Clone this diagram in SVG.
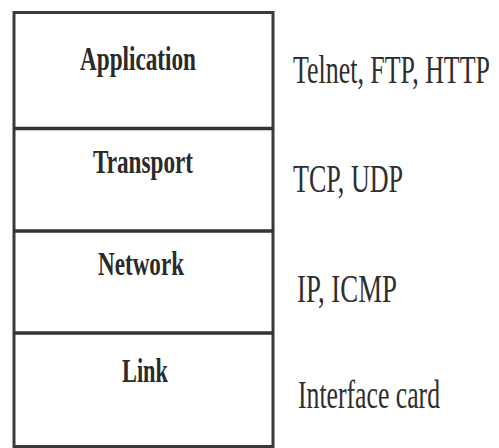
<svg xmlns="http://www.w3.org/2000/svg" width="499" height="448" viewBox="0 0 499 448">
<style>
.box{fill:#fff;stroke:#3a3a3a;stroke-width:3}
.div{stroke:#333;stroke-width:3.5}
.lay{font-family:"Liberation Serif","Times New Roman",serif;font-weight:bold;font-size:34px;fill:#2a2a2a}
.pro{font-family:"Liberation Serif","Times New Roman",serif;font-size:40px;fill:#2e2e2e}
</style>
<rect width="499" height="448" fill="#fff"/>
<g id="stack">
<rect class="box" x="14" y="12.5" width="259" height="434"/>
</g>
<g id="connectors">
<line class="div" x1="14" y1="128.5" x2="274" y2="128.5"/>
<line class="div" x1="14" y1="231" x2="274" y2="231"/>
<line class="div" x1="14" y1="333" x2="274" y2="333"/>
</g>
<g id="application">
<text class="lay" transform="translate(80,70) scale(0.75,1)" textLength="154.7" lengthAdjust="spacingAndGlyphs">Application</text>
<text class="pro" transform="translate(293,83) scale(0.65,1)" textLength="303" lengthAdjust="spacingAndGlyphs">Telnet, FTP, HTTP</text>
</g>
<g id="transport">
<text class="lay" transform="translate(93,173) scale(0.75,1)" textLength="133.3" lengthAdjust="spacingAndGlyphs">Transport</text>
<text class="pro" transform="translate(293,192) scale(0.65,1)" textLength="169.2" lengthAdjust="spacingAndGlyphs">TCP, UDP</text>
</g>
<g id="network">
<text class="lay" transform="translate(98,275) scale(0.75,1)" textLength="114.7" lengthAdjust="spacingAndGlyphs">Network</text>
<text class="pro" transform="translate(297,302) scale(0.65,1)" textLength="153.8" lengthAdjust="spacingAndGlyphs">IP, ICMP</text>
</g>
<g id="link">
<text class="lay" transform="translate(122,382) scale(0.75,1)" textLength="61.3" lengthAdjust="spacingAndGlyphs">Link</text>
<text class="pro" transform="translate(298,408) scale(0.65,1)" textLength="218.5" lengthAdjust="spacingAndGlyphs">Interface card</text>
</g>
</svg>
